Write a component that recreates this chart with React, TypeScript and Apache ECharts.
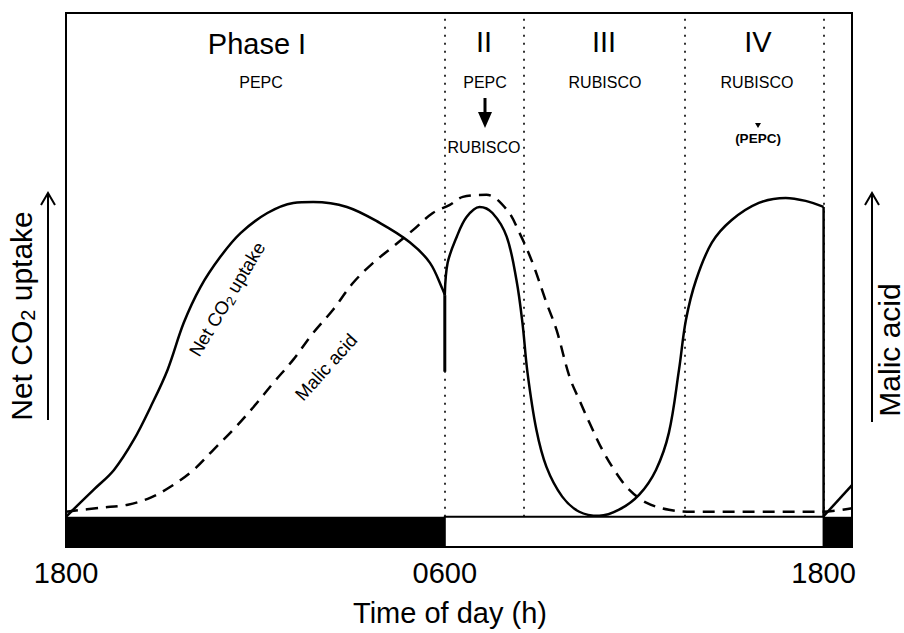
import { useEffect, useRef } from "react";
import * as echarts from "echarts";

// Time axis: hours after 1800 (0 = 1800, 12 = 0600, 24 = 1800 next day)
const tickHours = [0, 12, 24];
const tickLabels = ["1800", "0600", "1800"];
const phaseBounds = [12, 14.5, 19.6, 24];
const darkPeriods: [number, number][] = [[0, 12], [24, 24.9]];
const lightPeriods: [number, number][] = [[12, 24]];

// Net CO2 uptake (arbitrary units)
const co2Night: [number, number][] = [
  [0, 0], [0.16, 1.0], [0.88, 5.4], [1.52, 9.3], [2.15, 15.3], [2.68, 21.8], [3.22, 29.2],
  [3.73, 38.5], [4.26, 45.6], [4.89, 51.6], [5.53, 56.3], [6.38, 60.3], [7.2, 62.3],
  [7.83, 62.5], [8.9, 61.5], [9.95, 58.3], [10.89, 54.5], [11.53, 50.4], [11.94, 45.0], [12.0, 44.0],
];
const co2Spike: [number, number][] = [[12.0, 44.0], [12.0, 28.8]];
const co2Day: [number, number][] = [
  [12.0, 44.0], [12.09, 50.4], [12.38, 55.6], [12.69, 59.5], [13.1, 61.5], [13.51, 60.3],
  [13.96, 55.6], [14.27, 47.0], [14.46, 38.5], [14.62, 28.6], [14.9, 17.3], [15.22, 9.9],
  [15.72, 4.0], [16.26, 1.0], [16.89, 0.2], [17.52, 1.4], [18.16, 4.4], [18.69, 9.3],
  [19.1, 16.7], [19.42, 29.2], [19.64, 39.1], [19.96, 47.0], [20.46, 54.4], [21.09, 58.9],
  [21.95, 62.3], [22.8, 63.3], [23.43, 62.7], [24.0, 61.5],
];
const co2Drop: [number, number][] = [[24.0, 61.5], [24.0, 0.1]];
const co2Evening: [number, number][] = [[24.0, 0.1], [24.9, 6.3]];

// Malic acid (arbitrary units)
const malicAcid: [number, number][] = [
  [0, 1.0], [1.1, 1.8], [1.96, 2.4], [2.68, 3.8], [3.32, 6.0], [4.04, 9.3], [4.67, 13.3],
  [5.3, 17.3], [5.94, 21.8], [6.57, 26.6], [7.2, 31.2], [7.83, 36.5], [8.46, 41.1],
  [9.09, 46.4], [9.73, 50.4], [10.36, 53.6], [10.99, 56.9], [11.62, 60.3], [12.16, 61.9],
  [12.57, 63.5], [13.32, 63.9], [13.96, 61.0], [14.37, 56.3], [14.78, 50.4], [15.22, 42.5],
  [15.54, 37.1], [15.95, 27.8], [16.26, 23.2], [16.58, 18.7], [16.99, 13.3], [17.43, 8.7],
  [17.84, 5.4], [18.38, 2.8], [19.1, 1.4], [19.83, 1.0], [21.95, 1.0], [23.93, 1.0], [24.9, 1.7],
];

const FONT = "'Liberation Sans', Arial, Helvetica, sans-serif";

function txt(x: number, y: number, text: string, size: number, extra: any = {}, rotation = 0) {
  return {
    type: "text",
    x,
    y,
    rotation,
    silent: true,
    style: {
      text,
      fill: "#000",
      fontSize: size,
      fontFamily: FONT,
      align: "center",
      verticalAlign: "middle",
      textAlign: "center",
      textVerticalAlign: "middle",
      ...extra,
    },
  };
}

export default function App() {
  const ref = useRef<HTMLDivElement>(null);
  useEffect(() => {
    if (!ref.current) return;
    const chart = echarts.init(ref.current, undefined, { renderer: "svg" });
    const solidStyle = { color: "#000", width: 2.5 };
    const lineBase = {
      type: "line",
      showSymbol: false,
      symbol: "none",
      silent: true,
      z: 4,
      lineStyle: solidStyle,
    };
    const curveLabelRich = {
      m: { fontSize: 18.5, fontFamily: FONT, fill: "#000", color: "#000" },
      s: { fontSize: 13, fontFamily: FONT, fill: "#000", color: "#000", padding: [9, 0, 0, 0] },
    };
    const bigRich = {
      m: { fontSize: 30, fontFamily: FONT, fill: "#000", color: "#000" },
      s: { fontSize: 20, fontFamily: FONT, fill: "#000", color: "#000", padding: [14, 0, 0, 0] },
    };
    const option: any = {
      animation: false,
      backgroundColor: "#fff",
      grid: {
        left: 66,
        right: 52,
        top: 13,
        bottom: 86,
        show: true,
        borderColor: "#000",
        borderWidth: 2,
        backgroundColor: "transparent",
        z: 5,
      },
      xAxis: {
        type: "value",
        min: 0,
        max: 24.9,
        interval: 12,
        axisLine: { show: false },
        axisTick: { show: false },
        splitLine: { show: false },
        axisLabel: {
          showMinLabel: true,
          showMaxLabel: false,
          margin: 11,
          fontSize: 29,
          color: "#000",
          fontFamily: FONT,
          formatter: (v: number) => {
            const i = tickHours.indexOf(v);
            return i >= 0 ? tickLabels[i] : "";
          },
        },
      },
      yAxis: { type: "value", min: -6, max: 100, show: false },
      series: [
        {
          ...lineBase,
          name: "Net CO2 uptake (night)",
          data: co2Night,
          smooth: 0.35,
          markArea: {
            silent: true,
            z: 1,
            data: [
              ...darkPeriods.map((p) => [
                { xAxis: p[0], yAxis: -6, itemStyle: { color: "#000" } },
                { xAxis: p[1], yAxis: 0 },
              ]),
              ...lightPeriods.map((p) => [
                { xAxis: p[0], yAxis: -6, itemStyle: { color: "#fff", borderColor: "#000", borderWidth: 2 } },
                { xAxis: p[1], yAxis: 0 },
              ]),
            ],
          },
          markLine: {
            silent: true,
            symbol: ["none", "none"],
            label: { show: false },
            lineStyle: { type: [2, 6], color: "#000", width: 1.6 },
            data: phaseBounds.map((h) => [{ coord: [h, 0] }, { coord: [h, 100] }]),
          },
        },
        { ...lineBase, name: "spike", data: co2Spike, lineStyle: { color: "#000", width: 3 } },
        { ...lineBase, name: "Net CO2 uptake (day)", data: co2Day, smooth: 0.35 },
        { ...lineBase, name: "drop", data: co2Drop },
        { ...lineBase, name: "evening", data: co2Evening },
        {
          ...lineBase,
          name: "Malic acid",
          data: malicAcid,
          smooth: 0.35,
          lineStyle: { color: "#000", width: 2.5, type: [12, 8] },
        },
      ],
      graphic: [
        txt(257, 44, "Phase I", 29),
        txt(261, 82, "PEPC", 16),
        txt(484, 42, "II", 29),
        txt(604, 42, "III", 29),
        txt(758, 42, "IV", 29),
        txt(485, 82, "PEPC", 16),
        {
          type: "line",
          silent: true,
          shape: { x1: 485, y1: 98, x2: 485, y2: 116 },
          style: { stroke: "#000", lineWidth: 3 },
        },
        {
          type: "polygon",
          silent: true,
          shape: { points: [[478, 112], [492, 112], [485, 128]] },
          style: { fill: "#000" },
        },
        txt(484, 147, "RUBISCO", 16),
        txt(605, 82, "RUBISCO", 16),
        txt(757, 82, "RUBISCO", 16),
        {
          type: "polygon",
          silent: true,
          shape: { points: [[755, 123], [761, 123], [758, 128]] },
          style: { fill: "#000" },
        },
        txt(758, 138, "(PEPC)", 13.5, { fontWeight: "bold" }),
        // curve labels
        txt(227, 299, "{m|Net CO}{s|2}{m| uptake}", 18.5, { rich: curveLabelRich }, (59 * Math.PI) / 180),
        txt(326, 367, "Malic acid", 18.5, {}, (48 * Math.PI) / 180),
        // left axis title + arrow
        txt(21, 316, "{m|Net CO}{s|2}{m| uptake}", 30, { rich: bigRich }, Math.PI / 2),
        {
          type: "line",
          silent: true,
          shape: { x1: 48, y1: 420, x2: 48, y2: 194 },
          style: { stroke: "#000", lineWidth: 2 },
        },
        {
          type: "polyline",
          silent: true,
          shape: { points: [[41, 205], [48, 193], [55, 205]] },
          style: { stroke: "#000", lineWidth: 2, fill: null },
        },
        // right axis title + arrow
        txt(889, 350, "Malic acid", 30, {}, Math.PI / 2),
        {
          type: "line",
          silent: true,
          shape: { x1: 872, y1: 422, x2: 872, y2: 194 },
          style: { stroke: "#000", lineWidth: 2 },
        },
        {
          type: "polyline",
          silent: true,
          shape: { points: [[865, 205], [872, 193], [879, 205]] },
          style: { stroke: "#000", lineWidth: 2, fill: null },
        },
        // x axis title
        txt(450, 613, "Time of day (h)", 29),
      ],
    };
    chart.setOption(option);
    return () => chart.dispose();
  }, []);
  return (
    <div
      ref={ref}
      style={{ position: "fixed", left: 0, top: 0, width: 904, height: 633, background: "#fff" }}
    />
  );
}
